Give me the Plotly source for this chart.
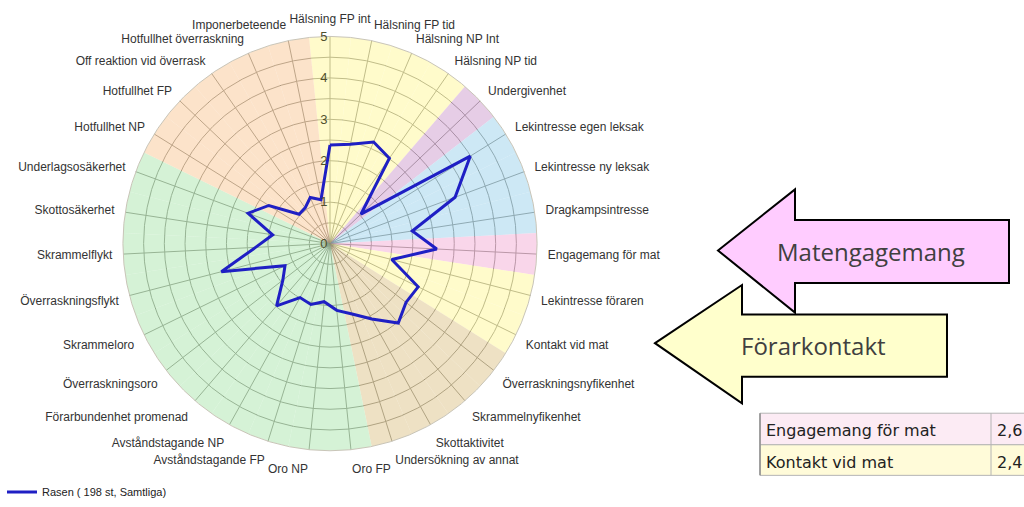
import plotly.graph_objects as go

categories = [
    "Hälsning FP int", "Hälsning FP tid", "Hälsning NP Int", "Hälsning NP tid",
    "Undergivenhet", "Lekintresse egen leksak", "Lekintresse ny leksak",
    "Dragkampsintresse", "Engagemang för mat", "Lekintresse föraren",
    "Kontakt vid mat", "Överraskningsnyfikenhet", "Skrammelnyfikenhet",
    "Skottaktivitet", "Undersökning av annat", "Oro FP", "Oro NP",
    "Avståndstagande FP", "Avståndstagande NP", "Förarbundenhet promenad",
    "Överraskningsoro", "Skrammeloro", "Överraskningsflykt", "Skrammelflykt",
    "Skottosäkerhet", "Underlagsosäkerhet", "Hotfullhet NP", "Hotfullhet FP",
    "Off reaktion vid överrask", "Hotfullhet överraskning", "Imponerbeteende",
]

values = [
    2.38, 2.45, 2.67, 2.51, 1.03, 3.99, 3.22, 2.01, 2.58, 1.54,
    2.37, 2.32, 2.53, 2.08, 1.78, 1.62, 1.41, 1.54, 1.49, 1.98,
    1.44, 1.21, 2.71, 1.80, 1.40, 2.11, 1.74, 1.03, 1.05, 1.21, 1.08,
]

# background group of each category
groups = (["social"] * 4 + ["submit"] + ["play"] * 3 + ["food"] + ["handler"] * 2
          + ["curious"] * 4 + ["fear"] * 11 + ["aggr"] * 5)
# semi-transparent so that the grid (drawn underneath) shows through
group_colors = {
    "social": "rgba(255,249,175,0.65)", "submit": "rgba(216,178,216,0.65)",
    "play": "rgba(178,220,240,0.65)", "food": "rgba(246,192,223,0.65)",
    "handler": "rgba(255,249,175,0.65)", "curious": "rgba(229,209,164,0.65)",
    "fear": "rgba(190,235,192,0.65)", "aggr": "rgba(250,212,174,0.65)",
}

series_name = "Rasen ( 198 st, Samtliga)"
r_max = 5
ring_vals = [i * 0.5 for i in range(11)]
ring_text = [str(int(v)) if v == int(v) else "" for v in ring_vals]

table_labels = ["Engagemang för mat", "Kontakt vid mat"]
table_fill = ["#FCEBF4", "#FFFBD9"]
arrow_texts = ["Matengagemang", "Förarkontakt"]

W, H = 1024, 507


def px(x):
    return x / W


def py(y):
    return 1 - y / H


fig = go.Figure()

fig.add_trace(go.Barpolar(
    r=[r_max] * len(categories),
    theta=categories,
    width=[1] * len(categories),
    marker=dict(color=[group_colors[g] for g in groups], line=dict(width=0)),
    showlegend=False,
    hoverinfo="skip",
))

fig.add_trace(go.Scatterpolar(
    r=values + values[:1],
    theta=categories + categories[:1],
    mode="lines",
    line=dict(color="#1F1FC4", width=3),
    name=series_name,
))

cx, cy, rad = 330, 247, 210
grid_col = "#4E4E44"
fig.update_layout(
    width=W, height=H,
    margin=dict(l=0, r=0, t=0, b=0),
    paper_bgcolor="white",
    font=dict(family="Liberation Sans, Arial, sans-serif", size=12, color="#333333"),
    polar=dict(
        domain=dict(x=[px(cx - rad), px(cx + rad)], y=[py(cy + rad), py(cy - rad)]),
        bgcolor="white",
        angularaxis=dict(
            rotation=90, direction="clockwise",
            showgrid=True, gridcolor=grid_col, gridwidth=1,
            showline=True, linecolor="#C9C5B8", linewidth=1,
            ticks="outside", ticklen=8, tickcolor="rgba(0,0,0,0)",
            tickfont=dict(size=12, color="#333333"),
            layer="above traces",
        ),
        radialaxis=dict(
            range=[0, r_max], angle=90, tickangle=90,
            tickvals=ring_vals, ticktext=ring_text,
            showgrid=True, gridcolor=grid_col, gridwidth=1,
            showline=False, ticks="", side="counterclockwise",
            tickfont=dict(size=13, color="#4F4F2C"),
            layer="above traces",
        ),
    ),
    legend=dict(
        x=px(2), y=py(499), xanchor="left", yanchor="middle",
        font=dict(size=11, color="#222222"), bgcolor="rgba(0,0,0,0)",
    ),
)

shapes = []
pink = [(718, 254), (795, 192), (795, 223), (1009, 223), (1009, 287), (795, 287), (795, 317)]
yellow = [(655, 348), (742, 289), (742, 319), (947, 319), (947, 382), (742, 382), (742, 409)]
for pts, col in ((pink, "#FFCCFF"), (yellow, "#FFFFCC")):
    path = "M " + " L ".join(f"{px(x):.5f},{py(y):.5f}" for x, y in pts) + " Z"
    shapes.append(dict(type="path", xref="paper", yref="paper", path=path,
                       fillcolor=col, line=dict(color="#000000", width=2)))

# table
tx0, tcol, tx1 = 760, 991, 1030
row_edges = [419, 451, 482]
for i in range(len(table_labels)):
    shapes.append(dict(type="rect", xref="paper", yref="paper",
                       x0=px(tx0), x1=px(tx1), y0=py(row_edges[i + 1]), y1=py(row_edges[i]),
                       fillcolor=table_fill[i], line=dict(color="#B4B4B4", width=1)))
shapes.append(dict(type="line", xref="paper", yref="paper",
                   x0=px(tcol), x1=px(tcol), y0=py(row_edges[-1]), y1=py(row_edges[0]),
                   line=dict(color="#B4B4B4", width=1)))
shapes.append(dict(type="line", xref="paper", yref="paper",
                   x0=px(tx0), x1=px(tx0), y0=py(row_edges[-1]), y1=py(row_edges[0]),
                   line=dict(color="#8C8C8C", width=1.5)))

annotations = []
for txt, (x, y) in zip(arrow_texts, [(871, 255), (813, 350)]):
    annotations.append(dict(text=txt, x=px(x), y=py(y), xref="paper", yref="paper",
                            showarrow=False, xanchor="center", yanchor="middle",
                            font=dict(family="Open Sans, sans-serif", size=24, color="#404040")))

for i, lab in enumerate(table_labels):
    v = values[categories.index(lab)]
    ymid = (row_edges[i] + row_edges[i + 1]) / 2 + 2
    annotations.append(dict(text=lab, x=px(764), y=py(ymid), xref="paper", yref="paper",
                            showarrow=False, xanchor="left", yanchor="middle",
                            font=dict(family="DejaVu Sans, Verdana, sans-serif", size=16, color="#222222")))
    annotations.append(dict(text=f"{v:.1f}".replace(".", ","), x=px(995), y=py(ymid),
                            xref="paper", yref="paper", showarrow=False,
                            xanchor="left", yanchor="middle",
                            font=dict(family="DejaVu Sans, Verdana, sans-serif", size=16, color="#222222")))

fig.update_layout(shapes=shapes, annotations=annotations)

fig.write_html(
    "out.html",
    config={"displayModeBar": False},
    post_script="document.body.style.margin='0';document.body.style.overflow='hidden';",
)
